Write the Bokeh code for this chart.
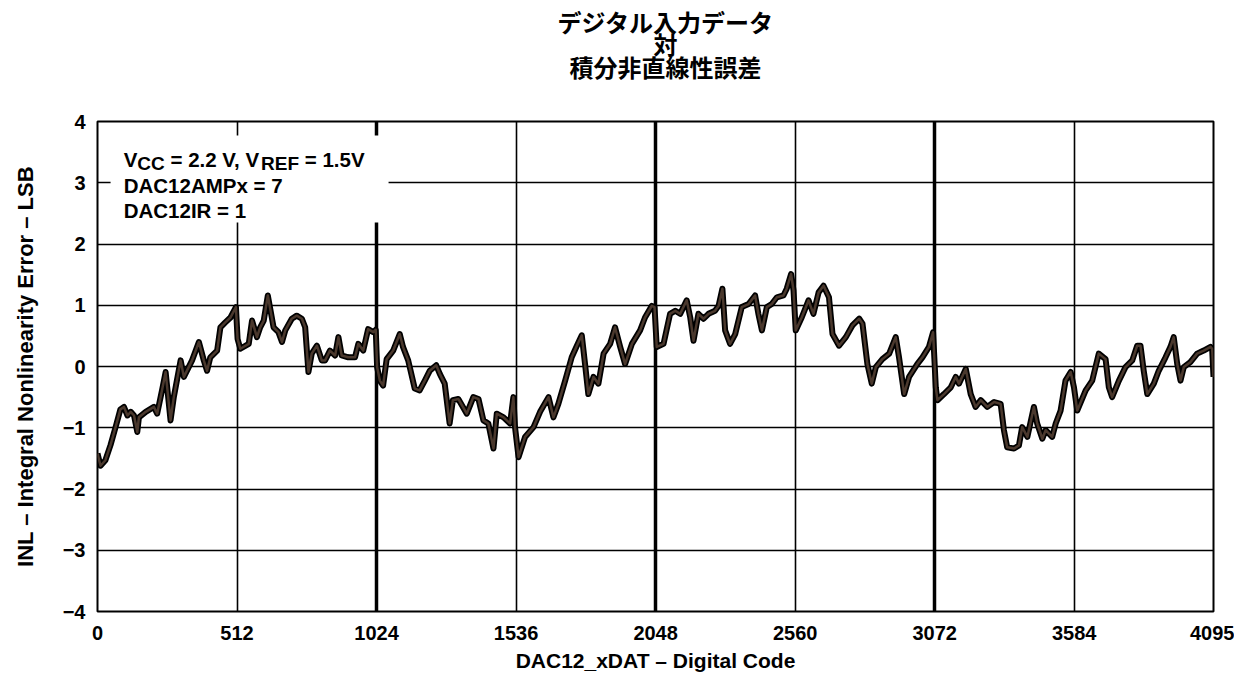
from bokeh.plotting import figure
from bokeh.models import FixedTicker, Grid, Label, Range1d
from bokeh.layouts import column
from bokeh.core.properties import value
from bokeh.embed import file_html
from bokeh.resources import INLINE

# ---------------- data ----------------
title_lines = ["デジタル入力データ", "対", "積分非直線性誤差"]
x_label = "DAC12_xDAT – Digital Code"
y_label = "INL – Integral Nonlinearity Error – LSB"

x_ticks = [0, 512, 1024, 1536, 2048, 2560, 3072, 3584, 4095]
x_tick_labels = ["0", "512", "1024", "1536", "2048", "2560", "3072", "3584", "4095"]
y_ticks = [-4, -3, -2, -1, 0, 1, 2, 3, 4]
y_tick_labels = ["−4", "−3", "−2", "−1", "0", "1", "2", "3", "4"]
major_codes = [1024, 2048, 3072]

codes = [0, 11, 29, 48, 67, 84, 97, 110, 122, 134, 146, 152, 177, 207, 219, 238, 250, 268, 280,
         305, 317, 347, 372, 390, 402, 414, 439, 451, 469, 488, 508, 514, 524, 555, 567, 585, 597,
         610, 625, 646, 664, 677, 689, 713, 731, 750, 762, 774, 786, 805, 823, 835, 853, 872, 884,
         896, 920, 945, 957, 975, 993, 1012, 1021, 1026, 1036, 1048, 1061, 1085, 1109, 1121, 1140,
         1164, 1182, 1201, 1219, 1243, 1256, 1274, 1292, 1304, 1324, 1355, 1379, 1398, 1416, 1434,
         1453, 1465, 1490, 1514, 1526, 1532, 1545, 1569, 1600, 1624, 1655, 1673, 1691, 1716, 1740,
         1759, 1777, 1789, 1801, 1820, 1838, 1857, 1881, 1899, 1918, 1936, 1961, 1991, 2009, 2034,
         2044, 2052, 2077, 2101, 2120, 2138, 2162, 2175, 2187, 2205, 2224, 2242, 2266, 2279, 2293,
         2303, 2321, 2340, 2364, 2389, 2413, 2425, 2438, 2456, 2474, 2493, 2517, 2529, 2545, 2554,
         2562, 2584, 2609, 2627, 2646, 2664, 2684, 2697, 2721, 2746, 2770, 2795, 2807, 2825, 2841,
         2856, 2880, 2905, 2929, 2941, 2960, 2978, 3008, 3027, 3051, 3066, 3076, 3082, 3106, 3131,
         3149, 3161, 3186, 3204, 3222, 3241, 3265, 3290, 3314, 3326, 3338, 3363, 3381, 3393, 3412,
         3436, 3448, 3467, 3479, 3503, 3516, 3534, 3552, 3571, 3583, 3595, 3626, 3650, 3674, 3699,
         3711, 3723, 3748, 3772, 3797, 3815, 3827, 3839, 3852, 3876, 3894, 3919, 3937, 3949, 3962,
         3974, 3986, 4010, 4035, 4059, 4084, 4090, 4095]
inl = [-1.42, -1.62, -1.53, -1.28, -0.98, -0.70, -0.66, -0.80, -0.74, -0.80, -1.07, -0.83, -0.74,
       -0.66, -0.77, -0.36, -0.09, -0.88, -0.50, 0.10, -0.17, 0.10, 0.40, 0.10, -0.07, 0.15, 0.26,
       0.64, 0.72, 0.80, 0.97, 0.45, 0.29, 0.37, 0.75, 0.48, 0.64, 0.75, 1.16, 0.64, 0.56, 0.40,
       0.59, 0.78, 0.83, 0.78, 0.64, -0.09, 0.21, 0.34, 0.10, 0.10, 0.26, 0.18, 0.48, 0.18, 0.15,
       0.15, 0.37, 0.26, 0.61, 0.56, 0.60, -0.01, -0.23, -0.31, 0.12, 0.26, 0.53, 0.32, 0.10,
       -0.36, -0.39, -0.23, -0.07, 0.02, -0.12, -0.28, -0.93, -0.55, -0.53, -0.77, -0.50, -0.53,
       -0.88, -0.93, -1.34, -0.77, -0.83, -0.93, -0.50, -0.99, -1.48, -1.15, -0.99, -0.74, -0.50,
       -0.83, -0.61, -0.23, 0.15, 0.34, 0.51, 0.04, -0.45, -0.17, -0.28, 0.21, 0.37, 0.64, 0.32,
       0.04, 0.37, 0.59, 0.80, 0.99, 0.97, 0.32, 0.37, 0.86, 0.91, 0.86, 1.08, 0.80, 0.42, 0.86,
       0.78, 0.86, 0.91, 0.99, 1.27, 0.59, 0.37, 0.53, 0.97, 1.02, 1.16, 0.86, 0.59, 0.97, 1.02,
       1.13, 1.16, 1.27, 1.51, 1.24, 0.59, 0.80, 1.08, 0.86, 1.21, 1.32, 1.13, 0.53, 0.34, 0.48,
       0.67, 0.78, 0.70, 0.04, -0.28, -0.01, 0.12, 0.21, 0.48, 0.15, -0.45, -0.17, 0.04, 0.15, 0.32,
       0.56, -0.34, -0.55, -0.45, -0.34, -0.17, -0.28, -0.04, -0.45, -0.66, -0.55, -0.66, -0.58,
       -0.61, -1.04, -1.32, -1.34, -1.29, -0.99, -1.15, -0.66, -0.93, -1.18, -1.04, -1.15, -0.93,
       -0.72, -0.23, -0.09, -0.34, -0.72, -0.39, -0.23, 0.21, 0.12, -0.34, -0.50, -0.23, -0.01,
       0.10, 0.34, 0.34, -0.07, -0.45, -0.28, -0.07, 0.15, 0.32, 0.48, 0.04, -0.23, -0.01, 0.07,
       0.21, 0.26, 0.32, 0.29, -0.17]

cond_line2 = "DAC12AMPx = 7"
cond_line3 = "DAC12IR = 1"

FONT = "Liberation Sans"
CJK = "Noto Sans CJK JP"

# ---------------- title strip ----------------
TW, TH = 1234, 107
t = figure(width=TW, height=TH, output_backend="svg", toolbar_location=None, title=None,
           x_range=Range1d(0, TW), y_range=Range1d(TH, 0),
           x_axis_type=None, y_axis_type=None,
           min_border_left=0, min_border_right=0, min_border_top=0, min_border_bottom=0)
t.outline_line_color = None
t.grid.visible = False
t.background_fill_color = "white"
t.border_fill_color = "white"
t.text(x=[628, 628, 628], y=[21, 43, 66], text=title_lines,
       text_font=value(CJK), text_font_style="bold", text_font_size="24px",
       text_color="black", text_align="center", text_baseline="middle")

# ---------------- main chart ----------------
p = figure(width=1234, height=569, output_backend="svg", toolbar_location=None,
           x_range=Range1d(0, 4095), y_range=Range1d(-4, 4),
           min_border_left=97, min_border_right=21, min_border_top=14, min_border_bottom=65)
p.background_fill_color = "white"
p.border_fill_color = "white"
p.outline_line_color = "black"
p.outline_line_width = 2

p.xaxis.ticker = FixedTicker(ticks=x_ticks)
p.yaxis.ticker = FixedTicker(ticks=y_ticks)
p.xaxis.major_label_overrides = dict(zip(x_ticks, x_tick_labels))
p.yaxis.major_label_overrides = dict(zip(y_ticks, y_tick_labels))
for ax in (p.xaxis, p.yaxis):
    ax.axis_line_color = None
    ax.major_tick_line_color = None
    ax.minor_tick_line_color = None
    ax.major_tick_in = 0
    ax.major_tick_out = 0
    ax.major_label_text_font = FONT
    ax.major_label_text_font_style = "bold"
    ax.major_label_text_font_size = "20px"
    ax.major_label_text_color = "black"
    ax.axis_label_text_font = FONT
    ax.axis_label_text_font_style = "bold"
    ax.axis_label_text_color = "black"
p.xaxis.axis_label_text_font_size = "21px"
p.yaxis.axis_label_text_font_size = "22px"
p.xaxis.axis_label = x_label
p.yaxis.axis_label = y_label
p.xaxis.major_label_standoff = 14
p.yaxis.major_label_standoff = 12
p.xaxis.axis_label_standoff = 6
p.yaxis.axis_label_standoff = 22

p.xgrid.ticker = FixedTicker(ticks=x_ticks)
p.ygrid.ticker = FixedTicker(ticks=y_ticks)
for g in (p.xgrid, p.ygrid):
    g.grid_line_color = "black"
    g.grid_line_width = 1.6
thick = Grid(dimension=0, ticker=FixedTicker(ticks=major_codes),
             grid_line_color="black", grid_line_width=3.5)
p.add_layout(thick)

# white box behind the conditions text
p.quad(left=48, right=1068, bottom=2.35, top=3.77, fill_color="white", line_color=None)

# curve
p.line(codes, inl, line_color="black", line_width=6, line_join="round")
p.line(codes, inl, line_color="#4a382d", line_width=2.5, line_join="round")

# conditions text (V_CC, V_REF with subscripts)
tx = 96
def lab(text, y, xo, yo=0, size="20.5px"):
    p.add_layout(Label(x=tx, y=y, x_offset=xo, y_offset=yo, text=text,
                       text_font=FONT, text_font_style="bold", text_font_size=size,
                       text_color="black", text_baseline="alphabetic", text_align="left"))
lab("V", 3.38, 0)
lab("CC", 3.38, 13.7, -4, "19px")
lab("= 2.2 V, V", 3.38, 46.8)
lab("REF", 3.38, 137.4, -4, "19px")
lab("= 1.5V", 3.38, 181.1)
lab(cond_line2, 2.955, 0)
lab(cond_line3, 2.547, 0)

layout = column(t, p, spacing=0)
open("out.html", "w").write(file_html(layout, INLINE))
